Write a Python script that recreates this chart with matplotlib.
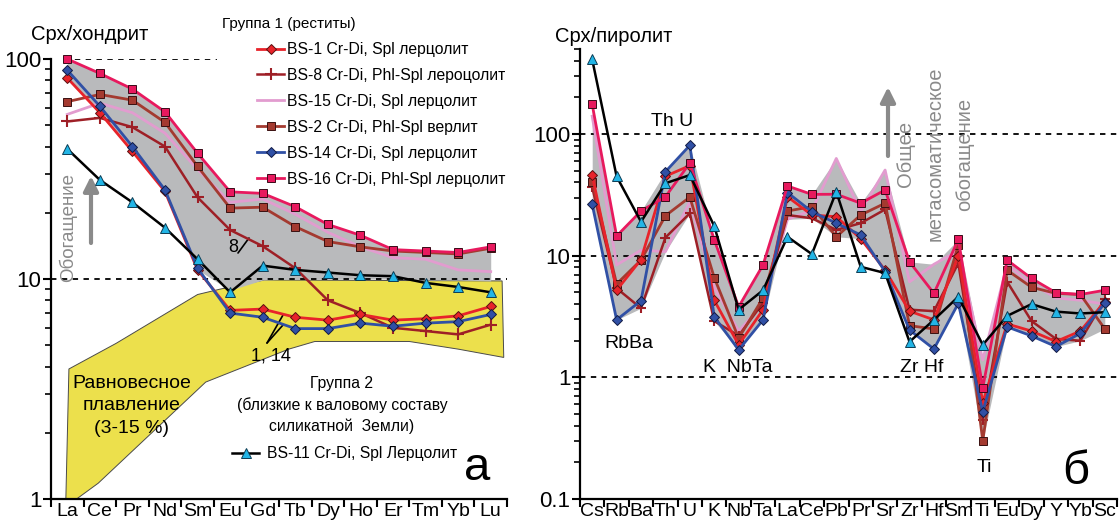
import numpy as np
import matplotlib
matplotlib.use("Agg")
from matplotlib import pyplot as plt

plt.rcParams["font.family"] = ["Liberation Sans", "DejaVu Sans"]

# ---- panel a: REE / chondrite ----
ree = ["La", "Ce", "Pr", "Nd", "Sm", "Eu", "Gd", "Tb", "Dy", "Ho", "Er", "Tm", "Yb", "Lu"]
bs1_ree = [82, 57, 38, 25, 11.0, 7.2, 7.3, 6.7, 6.5, 6.9, 6.5, 6.6, 6.8, 7.5]
bs8_ree = [52, 54, 49, 40, 23.5, 16.7, 14.1, 11.2, 8.0, 7.0, 6.0, 5.8, 5.6, 6.2]
bs15_ree = [56, 63, 57, 46, 31.5, 22.3, 23.1, 19.7, 16.3, 14.0, 12.5, 12.3, 11.0, 10.8]
bs2_ree = [64, 69, 65, 51.5, 32.5, 21, 21.2, 17.3, 14.8, 14.0, 13.4, 13.2, 13.0, 13.8]
bs14_ree = [89, 61, 40, 25.4, 11.2, 7.0, 6.7, 5.95, 5.95, 6.3, 6.1, 6.3, 6.4, 6.9]
bs16_ree = [100, 86, 73, 57.5, 37.3, 24.9, 24.5, 21.3, 17.7, 15.8, 13.6, 13.4, 13.2, 14.0]
bs11_ree = [39, 28.2, 22.3, 17.1, 12.3, 8.7, 11.5, 11.0, 10.7, 10.4, 10.3, 9.6, 9.2, 8.7]
gray_lo_ree = [82, 57, 38, 25, 11, 8.9, 9.9, 10, 10, 10, 10, 9.9, 9.9, 9.8]
# equilibrium melting field (outline)
melt_x = [0.05, 1.5, 4.0, 4.7, 6.05, 13.35, 13.4, 12.0, 10.5, 7.6, 6.8, 4.25, 0.95, -0.05]
melt_y = [3.9, 5.1, 8.5, 9.0, 9.9, 9.8, 4.4, 4.8, 5.2, 5.2, 4.8, 3.4, 1.18, 0.92]

# ---- panel б: trace elements / pyrolite ----
tr = ["Cs", "Rb", "Ba", "Th", "U", "K", "Nb", "Ta", "La", "Ce", "Pb",
      "Pr", "Sr", "Zr", "Hf", "Sm", "Ti", "Eu", "Dy", "Y", "Yb", "Sc"]
bs1_tr = [46, 5.2, 9.3, 45, 55, 4.3, 1.85, 3.6, 30.5, 21.6, 20.9, 13.8, 7.6, 3.5, 2.97, 10.0, 0.62, 2.75, 2.4, 1.97, 2.4, 4.2]
bs8_tr = [36.5, 5.4, 3.7, 14.1, 22.3, 2.9, 2.2, 4.1, 21.6, 20.3, 16.3, 18.5, 24, 3.6, 3.5, 8.7, 0.45, 6.1, 2.9, 2.07, 2.0, 4.4]
bs15_tr = [140, 8.4, 11.1, 10.8, 27.9, 5.5, 2.4, 4.0, 19.9, 23.6, 63, 23, 50.6, 6.1, 8.5, 11.0, 1.39, 8.4, 5.9, 4.5, 4.3, 4.0]
bs2_tr = [40.6, 5.85, 9.2, 21.3, 30.3, 6.6, 2.1, 4.5, 23.3, 25.3, 14.3, 21.6, 27, 2.66, 2.5, 12.3, 0.3, 7.6, 5.5, 4.9, 4.8, 2.5]
bs14_tr = [26.4, 2.97, 4.27, 49, 80.7, 3.15, 1.68, 2.97, 33, 23, 18.5, 14.8, 7.4, 2.45, 1.71, 4.06, 0.52, 2.6, 2.19, 1.79, 2.3, 4.06]
bs16_tr = [175, 14.5, 23.3, 30.5, 57.7, 13.5, 3.8, 8.4, 37.4, 31.9, 32, 27, 34.7, 8.9, 4.9, 13.6, 0.82, 9.2, 6.5, 4.96, 4.8, 5.2]
bs11_tr = [410, 44.8, 19, 39.4, 46, 17.5, 3.6, 5.2, 14.3, 10.3, 33.6, 8.1, 7.2, 1.96, 2.97, 4.6, 1.85, 3.2, 4.0, 3.47, 3.35, 3.43]

labels = {
    "bs1": "BS-1 Cr-Di, Spl лерцолит",
    "bs8": "BS-8 Cr-Di, Phl-Spl лероцолит",
    "bs15": "BS-15 Cr-Di, Spl лерцолит",
    "bs2": "BS-2 Cr-Di, Phl-Spl верлит",
    "bs14": "BS-14 Cr-Di, Spl лерцолит",
    "bs16": "BS-16 Cr-Di, Phl-Spl лерцолит",
    "bs11": "BS-11 Cr-Di, Spl Лерцолит",
}
styles = {
    "bs15": dict(color="#e29ccf", lw=2),
    "bs8": dict(color="#9e1f26", lw=1.8, marker="+", ms=8, mew=1.5),
    "bs2": dict(color="#a43a30", lw=2, marker="s", ms=5.5, mfc="#a43a30", mec="#3a1010", mew=0.7),
    "bs1": dict(color="#e8232a", lw=2, marker="D", ms=5.5, mfc="#e8232a", mec="#5a1010", mew=0.7),
    "bs14": dict(color="#3050a5", lw=2, marker="D", ms=5.5, mfc="#3050a5", mec="#111a44", mew=0.7),
    "bs16": dict(color="#e8195e", lw=2, marker="s", ms=5.5, mfc="#e8195e", mec="#3a0a18", mew=0.7),
    "bs11": dict(color="k", lw=1.8, marker="^", ms=7.5, mfc="#22b5e6", mec="#0c3d55", mew=0.7),
}
order = ["bs15", "bs8", "bs2", "bs1", "bs14", "bs16", "bs11"]
group1 = ["bs1", "bs8", "bs15", "bs2", "bs14", "bs16"]

W, H = 1120, 526
fig = plt.figure(figsize=(W / 100, H / 100), dpi=100)


def fpx(x, y):
    return (x, H - y)


def setup(ax, cats, ylo, yhi, ticks, ticklabels, fs_x, fs_y):
    ax.set_yscale("log")
    ax.set_xlim(-0.5, len(cats) - 0.5)
    ax.set_ylim(ylo, yhi)
    ax.spines["top"].set_visible(False)
    ax.spines["right"].set_visible(False)
    for s in ("left", "bottom"):
        ax.spines[s].set_linewidth(1.6)
    ax.set_xticks(np.arange(len(cats) + 1) - 0.5)
    ax.set_xticklabels([])
    ax.set_xticks(np.arange(len(cats)), minor=True)
    ax.set_xticklabels(cats, minor=True, fontsize=fs_x)
    ax.tick_params(axis="x", which="major", length=6, width=1.5, direction="out")
    ax.tick_params(axis="x", which="minor", length=0, pad=3)
    ax.set_yticks(ticks)
    ax.set_yticklabels(ticklabels, fontsize=fs_y)
    ax.tick_params(axis="y", which="major", length=6, width=1.5, pad=1)
    ax.tick_params(axis="y", which="minor", length=4, width=1.2, labelleft=False)
    ax.patch.set_alpha(0)


# ================= panel a =================
ax1 = fig.add_axes([51 / W, 27 / H, 456 / W, 440 / H])
x1 = np.arange(len(ree))
ax1.fill(melt_x, melt_y, facecolor="#ece04c", edgecolor="#4a4a4a", lw=0.7, zorder=1)
ax1.fill_between(x1, gray_lo_ree, bs16_ree, color="#b9babc", lw=0, zorder=2)
ax1.axhline(10, ls=(0, (3, 3)), color="k", lw=1.3, zorder=3)
ax1.hlines(100, -0.1, 4.6, ls=(0, (3, 3)), color="k", lw=1.3, zorder=3)
data_ree = dict(bs1=bs1_ree, bs8=bs8_ree, bs15=bs15_ree, bs2=bs2_ree,
                bs14=bs14_ree, bs16=bs16_ree, bs11=bs11_ree)
h1 = {}
for k in order:
    h1[k], = ax1.plot(x1, data_ree[k], label=labels[k], zorder=4, clip_on=False, **styles[k])
setup(ax1, ree, 1, 100, [1, 10, 100], ["1", "10", "100"], 14, 16)

fig.legend([h1[k] for k in group1], [labels[k] for k in group1],
           loc="upper left", bbox_to_anchor=(257 / W, 1 - 42 / H), frameon=False,
           fontsize=11.3, handlelength=1.75, handletextpad=0.15, labelspacing=0.7,
           borderpad=0, borderaxespad=0, numpoints=1)
fig.legend([h1["bs11"]], [labels["bs11"]], loc="upper left",
           bbox_to_anchor=(232 / W, 1 - 446 / H), frameon=False, fontsize=11.3,
           handlelength=1.75, handletextpad=0.45, borderpad=0, borderaxespad=0, numpoints=1)

fig.text(31 / W, 1 - 34 / H, "Срх/хондрит", fontsize=14.6, va="center", ha="left")
fig.text(222 / W, 1 - 24 / H, "Группа 1 (реститы)", fontsize=11, va="center", ha="left")
fig.text(342 / W, 1 - 405 / H, "Группа 2\n(близкие к валовому составу\nсиликатной  Земли)",
         fontsize=11.3, va="center", ha="center", linespacing=1.45)
fig.text(132 / W, 1 - 406 / H, "Равновесное\nплавление\n(3-15 %)", fontsize=14,
         va="center", ha="center", linespacing=1.4)
fig.text(68 / W, 1 - 227 / H, "Обогащение", fontsize=13.5, rotation=90, color="#8a8a8a",
         va="center", ha="center")
fig.text(477 / W, 1 - 468 / H, "а", fontsize=34, va="center", ha="center")
fig.text(233 / W, 1 - 247 / H, "8", fontsize=13, va="center", ha="center")
fig.text(271 / W, 1 - 356 / H, "1, 14", fontsize=13, va="center", ha="center")

arrow = dict(arrowstyle="-|>", color="#8a8a8a", lw=3, mutation_scale=22, shrinkA=0, shrinkB=0)
ax1.annotate("", xy=fpx(91, 176), xytext=fpx(91, 243), xycoords="figure pixels",
             textcoords="figure pixels", arrowprops=arrow)
lead = dict(arrowstyle="-", color="k", lw=1.2, shrinkA=0, shrinkB=0)
ax1.annotate("", xy=fpx(249, 238), xytext=fpx(238, 253), xycoords="figure pixels",
             textcoords="figure pixels", arrowprops=lead)
ax1.annotate("", xy=fpx(283, 315), xytext=fpx(267, 343), xycoords="figure pixels",
             textcoords="figure pixels", arrowprops=lead)
ax1.annotate("", xy=fpx(283, 325), xytext=fpx(267, 343), xycoords="figure pixels",
             textcoords="figure pixels", arrowprops=lead)

# ================= panel б =================
ax2 = fig.add_axes([580 / W, 27 / H, 537 / W, 450 / H])
x2 = np.arange(len(tr))
data_tr = dict(bs1=bs1_tr, bs8=bs8_tr, bs15=bs15_tr, bs2=bs2_tr,
               bs14=bs14_tr, bs16=bs16_tr, bs11=bs11_tr)
env = np.array([data_tr[k] for k in group1])
ax2.fill_between(x2, env.min(axis=0), env.max(axis=0), color="#b9babc", lw=0, zorder=1)
for v in (1, 10, 100):
    ax2.axhline(v, ls=(0, (3, 3)), color="k", lw=1.3, zorder=2)
for k in order:
    st = dict(styles[k])
    if "ms" in st:
        st["ms"] = st["ms"] * 0.92
    ax2.plot(x2, data_tr[k], zorder=4, clip_on=False, **st)
setup(ax2, tr, 0.1, 500, [0.1, 1, 10, 100], ["0.1", "1", "10", "100"], 14, 16)

fig.text(555 / W, 1 - 37 / H, "Срх/пиролит", fontsize=14.5, va="center", ha="left")
fig.text(672 / W, 1 - 122 / H, "Th U", fontsize=14, va="center", ha="center")
fig.text(629 / W, 1 - 343 / H, "RbBa", fontsize=14, va="center", ha="center")
fig.text(738 / W, 1 - 368 / H, "K  NbTa", fontsize=14, va="center", ha="center")
fig.text(922 / W, 1 - 368 / H, "Zr Hf", fontsize=14, va="center", ha="center")
fig.text(984 / W, 1 - 467 / H, "Ti", fontsize=14, va="center", ha="center")
fig.text(1076 / W, 1 - 472 / H, "б", fontsize=34, va="center", ha="center")
fig.text(935 / W, 1 - 154 / H, "Общее\nметасоматическое\nобогащение", fontsize=14.5,
         rotation=90, color="#8a8a8a", va="center", ha="center", linespacing=1.7,
         multialignment="center")
ax2.annotate("", xy=fpx(888, 87), xytext=fpx(888, 156), xycoords="figure pixels",
             textcoords="figure pixels", arrowprops=arrow)

fig.savefig("out.png", dpi=100)
